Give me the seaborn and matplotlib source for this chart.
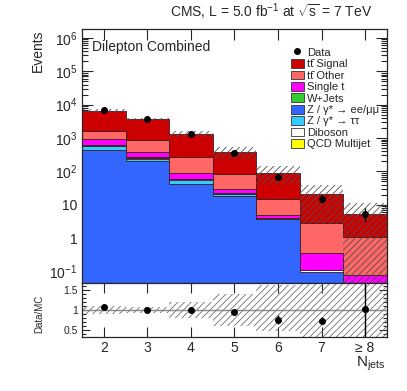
import matplotlib
matplotlib.use("Agg")
import matplotlib.pyplot as plt
import numpy as np
import pandas as pd
import seaborn as sns
from matplotlib.legend_handler import HandlerPatch
from matplotlib.lines import Line2D
from matplotlib.patches import Patch, Rectangle
from matplotlib.ticker import FixedLocator, FuncFormatter, MultipleLocator, NullFormatter

# Jet multiplicity bins (centres), labels
njets = [2, 3, 4, 5, 6, 7, 8]
njet_labels = ["2", "3", "4", "5", "6", "7", "≥ 8"]

# Simulated contributions per bin (events)
tt_signal = [4940, 2850, 1067, 297, 77, 18.2, 4.25]
tt_other = [730, 470, 174, 54, 10, 2.46, 0.97]
single_t = [330, 105, 29, 6.5, 1.05, 0.24, 0.076]
w_jets = [15, 12, 2, 1, 0.1, 0.0, 0.0]
z_ee_mumu = [430, 200, 41, 18, 3.7, 0.098, 0.0]
z_tautau = [130, 35, 15, 2.5, 0.05, 0.0, 0.0]
diboson = [25, 20, 2, 1, 0.1, 0.01, 0.0]
qcd = [0.0, 0.0, 0.0, 0.0, 0.0, 0.0, 0.0]

# Observed data and its uncertainty
data = [7130, 3700, 1330, 360, 70, 15.3, 5.45]
data_err = [85, 61, 36, 19, 8.4, 3.9, 2.4]
ratio_err = [0.01, 0.02, 0.03, 0.05, 0.12, 0.09, 0.8]

# Relative systematic band (up, down)
syst_up = [0.09, 0.07, 0.20, 0.40, 0.62, 0.9, 1.1]
syst_down = [0.09, 0.07, 0.20, 0.39, 0.53, 0.87, 1.0]

processes = ["tt Signal", "tt Other", "Single t", "W+Jets",
             "QCD Multijet", "Diboson", "Z tautau", "Z ee/mumu"]
values = [tt_signal, tt_other, single_t, w_jets, qcd, diboson, z_tautau, z_ee_mumu]
colors = ["#cc0000", "#ff6666", "#ff00ff", "#33cc33",
          "#ffff00", "#ffffff", "#33ccff", "#3366ff"]

rows = []
for proc, vals in zip(processes, values):
    for n, v in zip(njets, vals):
        rows.append({"njets": n, "process": proc, "events": v})
df = pd.DataFrame(rows)

sns.set_style("ticks")
plt.rcParams["font.family"] = ["Liberation Sans", "DejaVu Sans"]
plt.rcParams["mathtext.fontset"] = "custom"
plt.rcParams["mathtext.rm"] = "Liberation Sans"
plt.rcParams["mathtext.it"] = "Liberation Sans:italic"
plt.rcParams["mathtext.default"] = "regular"
plt.rcParams["hatch.linewidth"] = 0.6

fig = plt.figure(figsize=(4.07, 3.91), dpi=100)
ax = fig.add_axes([0.2015, 0.2762, 0.749, 0.6496])
rax = fig.add_axes([0.2015, 0.1389, 0.749, 0.1373], sharex=ax)

edges = np.arange(1.5, 9.0, 1.0)

sns.histplot(data=df, x="njets", weights="events", hue="process",
             hue_order=processes, palette=dict(zip(processes, colors)),
             multiple="stack", element="step", binwidth=1, binrange=(1.5, 8.5),
             alpha=1, edgecolor="#3a2020", linewidth=0.6, legend=False, ax=ax)
ax.set_yscale("log")

total = np.sum(np.array(values), axis=0)
hi = total * (1 + np.array(syst_up))
lo = np.clip(total * (1 - np.array(syst_down)), 1e-3, None)
ax.fill_between(edges, np.append(lo, lo[-1]), np.append(hi, hi[-1]), step="post",
                facecolor="none", edgecolor="#505050", hatch="/////", linewidth=0)

ax.errorbar(njets, data, yerr=data_err, fmt="o", color="black", ms=4,
            elinewidth=1, capsize=0)

ax.set_xlim(1.5, 8.5)
ax.set_ylim(0.045, 1.85e6)
ax.set_xlabel("")
ax.set_ylabel("")


def log_label(y, pos):
    if abs(y - 1) < 1e-9:
        return "1"
    if abs(y - 10) < 1e-9:
        return "10"
    return r"$10^{%d}$" % int(round(np.log10(y)))


decades = [10.0 ** k for k in range(-1, 7)]
minors = [m * 10.0 ** k for k in range(-2, 7) for m in range(2, 10)
          if 0.045 <= m * 10.0 ** k <= 1.85e6]
ax.yaxis.set_major_locator(FixedLocator(decades))
ax.yaxis.set_major_formatter(FuncFormatter(log_label))
ax.yaxis.set_minor_locator(FixedLocator(minors))
ax.yaxis.set_minor_formatter(NullFormatter())
ax.xaxis.set_major_locator(FixedLocator(njets))
ax.tick_params(axis="x", labelbottom=False)
ax.tick_params(which="both", direction="in", top=True, right=True, width=0.8)
ax.tick_params(which="major", length=8, labelsize=10)
ax.tick_params(which="minor", length=4)
ax.tick_params(axis="x", which="minor", length=0)


# legend boxes a bit shorter than the row, so all rows get the same height
def small_box(legend, orig_handle, xdescent, ydescent, width, height, fontsize):
    return Rectangle((-xdescent, -ydescent + 0.12 * height), width, 0.76 * height)


handles = [Line2D([], [], marker="o", color="black", ls="none", ms=4)]
leg_colors = ["#cc0000", "#ff6666", "#ff00ff", "#33cc33",
              "#3366ff", "#33ccff", "#ffffff", "#ffff00"]
for c in leg_colors:
    handles.append(Patch(facecolor=c, edgecolor="#333333", linewidth=0.6))
labels = ["Data", "tt\u0304 Signal", "tt\u0304 Other", "Single t", "W+Jets",
          "Z / γ* → ee/μμ", "Z / γ* → ττ", "Diboson", "QCD Multijet"]
ax.legend(handles, labels, loc="upper left", bbox_to_anchor=(0.685, 0.932),
          frameon=False, fontsize=8, handlelength=1.17, handleheight=1.2,
          handletextpad=0.27, labelspacing=0.0, borderpad=0, borderaxespad=0,
          handler_map={Patch: HandlerPatch(patch_func=small_box)})

ax.text(0.033, 0.929, "Dilepton Combined", transform=ax.transAxes,
        fontsize=10, ha="left", va="center")

# ratio panel
ratio = np.array(data) / total
rhi = 1 + np.array(syst_up)
rlo = 1 - np.array(syst_down)
rax.fill_between(edges, np.append(rlo, rlo[-1]), np.append(rhi, rhi[-1]), step="post",
                 facecolor="none", edgecolor="#707070", hatch="/////", linewidth=0)
rax.axhline(1.0, color="#888888", lw=1)
rax.errorbar(njets, ratio, yerr=ratio_err, fmt="o", color="black", ms=4,
             elinewidth=1, capsize=0)
rax.set_ylim(0.33, 1.68)
rax.set_xlim(1.5, 8.5)
rax.yaxis.set_major_locator(FixedLocator([0.5, 1.0, 1.5]))
rax.yaxis.set_major_formatter(FuncFormatter(lambda y, p: f"{y:g}"))
rax.yaxis.set_minor_locator(MultipleLocator(0.1))
rax.xaxis.set_major_locator(FixedLocator(njets))
rax.set_xticklabels(njet_labels)
rax.tick_params(which="both", direction="in", top=True, right=True, width=0.8)
rax.tick_params(axis="y", which="major", length=6, labelsize=7.5, pad=3)
rax.tick_params(axis="y", which="minor", length=3)
rax.tick_params(axis="x", which="major", length=7, labelsize=10, pad=3)
rax.tick_params(axis="x", which="minor", length=0)
rax.set_xlabel("")
rax.set_ylabel("")

for a in (ax, rax):
    for s in a.spines.values():
        s.set_linewidth(0.9)

fig.text(0.914, 0.969, r"CMS, L = 5.0 fb$^{-1}$ at $\sqrt{s}$ = 7 TeV",
         ha="right", va="center", fontsize=10)
fig.text(0.093, 0.925, "Events", rotation=90, ha="center", va="top", fontsize=10)
fig.text(0.096, 0.197, "Data/MC", rotation=90, ha="center", va="center", fontsize=7)
fig.text(0.948, 0.092, r"N$_{jets}$", ha="right", va="top", fontsize=11)

fig.savefig("out.png", dpi=100)
